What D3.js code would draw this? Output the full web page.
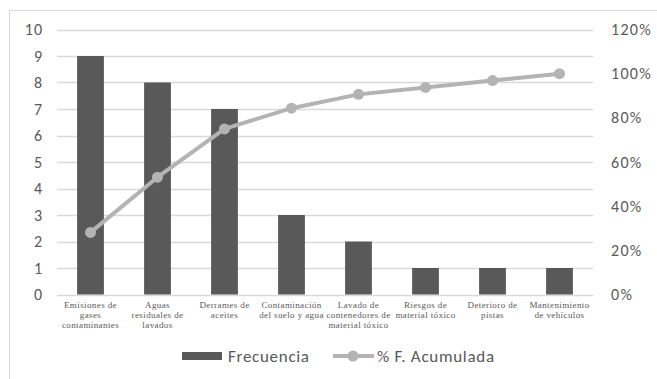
<!DOCTYPE html>
<html>
<head>
<meta charset="utf-8">
<script src="https://cdn.jsdelivr.net/npm/d3@7"></script>
<style>
  html, body { margin: 0; padding: 0; background: #fff; }
  svg { display: block; }
</style>
</head>
<body>
<svg id="chart" width="657" height="379"></svg>
<script>
// Pareto data: impact categories, frequency and cumulative percentage
const categories = [
  ["Emisiones de", "gases", "contaminantes"],
  ["Aguas", "residuales de", "lavados"],
  ["Derrames de", "aceites"],
  ["Contaminación", "del suelo y agua"],
  ["Lavado de", "contenedores de", "material tóxico"],
  ["Riesgos de", "material tóxico"],
  ["Deterioro de", "pistas"],
  ["Mantenimiento", "de vehículos"]
];
const frecuencia = [9, 8, 7, 3, 2, 1, 1, 1];
const acumulada = [0.28125, 0.53125, 0.75, 0.84375, 0.90625, 0.9375, 0.96875, 1.0];
const leftTicks = [0, 1, 2, 3, 4, 5, 6, 7, 8, 9, 10];
const rightTicks = [0, 0.2, 0.4, 0.6, 0.8, 1.0, 1.2];
const seriesNames = ["Frecuencia", "% F. Acumulada"];

const svg = d3.select("#chart");
const plot = { left: 57, right: 593, top: 29.5, bottom: 294.5 };
const sansFont = "Carlito, Calibri, 'Open Sans', sans-serif";

// Outer chart frame
svg.append("rect")
  .attr("x", 9.5).attr("y", 10.5)
  .attr("width", 700).attr("height", 400)
  .attr("fill", "none").attr("stroke", "#d9d9d9").attr("stroke-width", 1);

const x = d3.scaleBand()
  .domain(d3.range(categories.length))
  .range([plot.left, plot.right])
  .paddingInner(0.6).paddingOuter(0.3);

const yL = d3.scaleLinear().domain([0, 10]).range([plot.bottom, plot.top]);
const yR = d3.scaleLinear().domain([0, 1.2]).range([plot.bottom, plot.top]);

// Horizontal gridlines
svg.append("g").selectAll("line")
  .data(leftTicks)
  .join("line")
  .attr("x1", plot.left).attr("x2", plot.right)
  .attr("y1", d => Math.round(yL(d)) + 0.5).attr("y2", d => Math.round(yL(d)) + 0.5)
  .attr("stroke", "#d9d9d9").attr("stroke-width", 1.3);

// Left axis (frequency)
const axL = svg.append("g")
  .attr("transform", `translate(${plot.left - 13.5},0)`)
  .call(d3.axisLeft(yL).tickValues(leftTicks).tickSize(0).tickPadding(0));
axL.select(".domain").remove();
axL.selectAll("text")
  .attr("fill", "#595959")
  .style("font-family", sansFont)
  .style("font-size", "16px")
  .style("letter-spacing", "1.3px");

// Right axis (cumulative %)
const axR = svg.append("g")
  .attr("transform", `translate(611,0)`)
  .call(d3.axisRight(yR).tickValues(rightTicks).tickSize(0).tickPadding(0)
    .tickFormat(d3.format(".0%")));
axR.select(".domain").remove();
axR.selectAll("text")
  .attr("fill", "#595959")
  .style("font-family", sansFont)
  .style("font-size", "16px")
  .style("letter-spacing", "1.3px");

// Bars
svg.append("g").selectAll("rect")
  .data(frecuencia)
  .join("rect")
  .attr("x", (d, i) => x(i))
  .attr("y", d => yL(d))
  .attr("width", x.bandwidth())
  .attr("height", d => yL(0) - yL(d))
  .attr("fill", "#595959");

// Cumulative line
const cx = i => x(i) + x.bandwidth() / 2;
svg.append("path")
  .datum(acumulada)
  .attr("fill", "none")
  .attr("stroke", "#b3b3b3")
  .attr("stroke-width", 4)
  .attr("stroke-linejoin", "round")
  .attr("d", d3.line().x((d, i) => cx(i)).y(d => yR(d)));

svg.append("g").selectAll("circle")
  .data(acumulada)
  .join("circle")
  .attr("cx", (d, i) => cx(i))
  .attr("cy", d => yR(d))
  .attr("r", 5.5)
  .attr("fill", "#b3b3b3");

// Category labels
const labels = svg.append("g")
  .style("font-family", "'Liberation Serif', 'Times New Roman', serif")
  .style("font-size", "9px")
  .style("letter-spacing", "0.4px")
  .attr("fill", "#595959")
  .attr("text-anchor", "middle");
categories.forEach((lines, i) => {
  const t = labels.append("text").attr("x", cx(i)).attr("y", 308);
  lines.forEach((ln, k) => {
    t.append("tspan").attr("x", cx(i)).attr("dy", k === 0 ? 0 : 10).text(ln);
  });
});

// Legend
const lg = svg.append("g")
  .style("font-family", sansFont)
  .style("font-size", "17px")
  .style("letter-spacing", "0.7px")
  .attr("fill", "#595959");
lg.append("rect").attr("x", 182).attr("y", 352).attr("width", 40).attr("height", 8).attr("fill", "#595959");
lg.append("text").attr("x", 228).attr("y", 362).text(seriesNames[0]);
lg.append("line").attr("x1", 333).attr("x2", 374).attr("y1", 356).attr("y2", 356)
  .attr("stroke", "#b3b3b3").attr("stroke-width", 4);
lg.append("circle").attr("cx", 353).attr("cy", 356).attr("r", 5.5).attr("fill", "#b3b3b3");
lg.append("text").attr("x", 377).attr("y", 362).text(seriesNames[1]);
</script>
</body>
</html>
